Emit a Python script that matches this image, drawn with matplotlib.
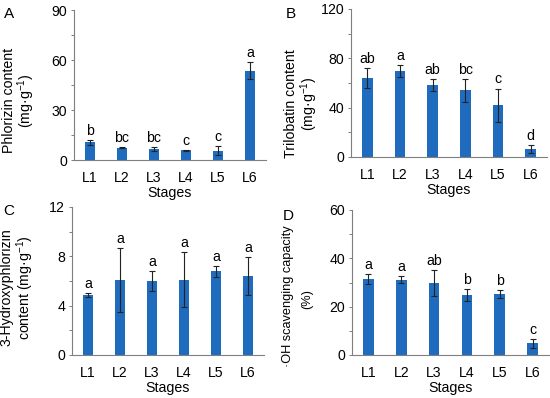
import matplotlib
matplotlib.use("Agg")
import matplotlib.pyplot as plt
from matplotlib.ticker import MultipleLocator

plt.rcParams['font.family'] = ['Liberation Sans', 'DejaVu Sans']
plt.rcParams['mathtext.fontset'] = 'custom'
plt.rcParams['mathtext.rm'] = 'Liberation Sans'

stages = ["L1", "L2", "L3", "L4", "L5", "L6"]

phlorizin = [10.6, 7.4, 6.6, 5.8, 5.6, 53.6]
phlorizin_err = [1.4, 0.3, 1.0, 0.4, 2.7, 5.0]
phlorizin_sig = ["b", "bc", "bc", "c", "c", "a"]

trilobatin = [64.1, 69.7, 58.1, 54.1, 41.9, 6.2]
trilobatin_err = [7.8, 4.9, 4.9, 9.3, 13.6, 3.2]
trilobatin_sig = ["ab", "a", "ab", "bc", "c", "d"]

hydroxy = [4.86, 6.08, 6.0, 6.1, 6.78, 6.43]
hydroxy_err = [0.16, 2.57, 0.84, 2.24, 0.43, 1.54]
hydroxy_sig = ["a", "a", "a", "a", "a", "a"]

oh_scav = [31.4, 31.2, 29.8, 24.8, 25.1, 4.8]
oh_scav_err = [2.1, 1.4, 5.4, 2.6, 1.7, 1.8]
oh_scav_sig = ["a", "a", "ab", "b", "b", "c"]

W, H = 550, 398
fig = plt.figure(figsize=(W / 100, H / 100), dpi=100)

def px_axes(left, right, top, bottom):
    return fig.add_axes([left / W, (H - bottom) / H, (right - left) / W, (bottom - top) / H])

# (letter, axes box px, values, errors, letters, ymax, step,
#  ylabel lines, letter pos, [(x, y) centre of each ylabel line], ylabel size)
panels = [
    ("A", (74, 266, 10, 160), phlorizin, phlorizin_err, phlorizin_sig, 90, 30,
     ["Phlorizin content", "(mg·g$^{-1}$)"], (4, 18), [(9, 100), (26, 101)], 10.2),
    ("B", (351, 547, 9, 157), trilobatin, trilobatin_err, trilobatin_sig, 120, 40,
     ["Trilobatin content", "(mg·g$^{-1}$)"], (286, 18), [(291, 104), (309, 104)], 10.2),
    ("C", (72, 264, 207, 355), hydroxy, hydroxy_err, hydroxy_sig, 12, 4,
     ["3-Hydroxyphlorizin", "content (mg·g$^{-1}$)"], (3, 215), [(7, 287), (25, 288)], 10.2),
    ("D", (352, 549, 210, 355), oh_scav, oh_scav_err, oh_scav_sig, 60, 20,
     ["·OH scavenging capacity", "(%)"], (283, 220), [(288, 296), (307, 299)], 9.2),
]

bar_color = "#1f6cbf"
spine_color = "#7f7f7f"
fs = 10.2
x = list(range(len(stages)))

for letter, box, vals, errs, sigs, ymax, step, ylines, lpos, ylpos, yfs in panels:
    ax = px_axes(*box)
    ax.bar(x, vals, width=0.32, color=bar_color, zorder=2)
    ax.errorbar(x, vals, yerr=errs, fmt="none", ecolor="#222222",
                elinewidth=0.8, capsize=2.2, capthick=0.8, zorder=3)
    for xi, v, e, s in zip(x, vals, errs, sigs):
        ax.annotate(s, (xi, v + e), xytext=(0, 1.5), textcoords="offset points",
                    ha="center", va="bottom", fontsize=fs)
    ax.set_xlim(-0.5, len(stages) - 0.5)
    ax.set_ylim(0, ymax)
    ax.yaxis.set_major_locator(MultipleLocator(step))
    ax.yaxis.set_minor_locator(MultipleLocator(step / 2))
    ax.set_xticks(x)
    ax.set_xticklabels(stages, fontsize=fs)
    ax.tick_params(axis="x", length=0, pad=8)
    ax.tick_params(axis="y", which="both", direction="out", length=2,
                   width=0.7, color=spine_color, labelsize=fs, pad=3)
    for sp in ("top", "right"):
        ax.spines[sp].set_visible(False)
    for sp in ("left", "bottom"):
        ax.spines[sp].set_color(spine_color)
        ax.spines[sp].set_linewidth(0.8)
    ax.set_xlabel("Stages", fontsize=fs, labelpad=0.5)
    for txt, (lx, ly) in zip(ylines, ylpos):
        fig.text(lx / W, 1 - ly / H, txt, fontsize=yfs, rotation=90,
                 ha="center", va="center")
    fig.text(lpos[0] / W, 1 - lpos[1] / H, letter, fontsize=11, ha="left", va="baseline")

fig.savefig("out.png", dpi=100)
